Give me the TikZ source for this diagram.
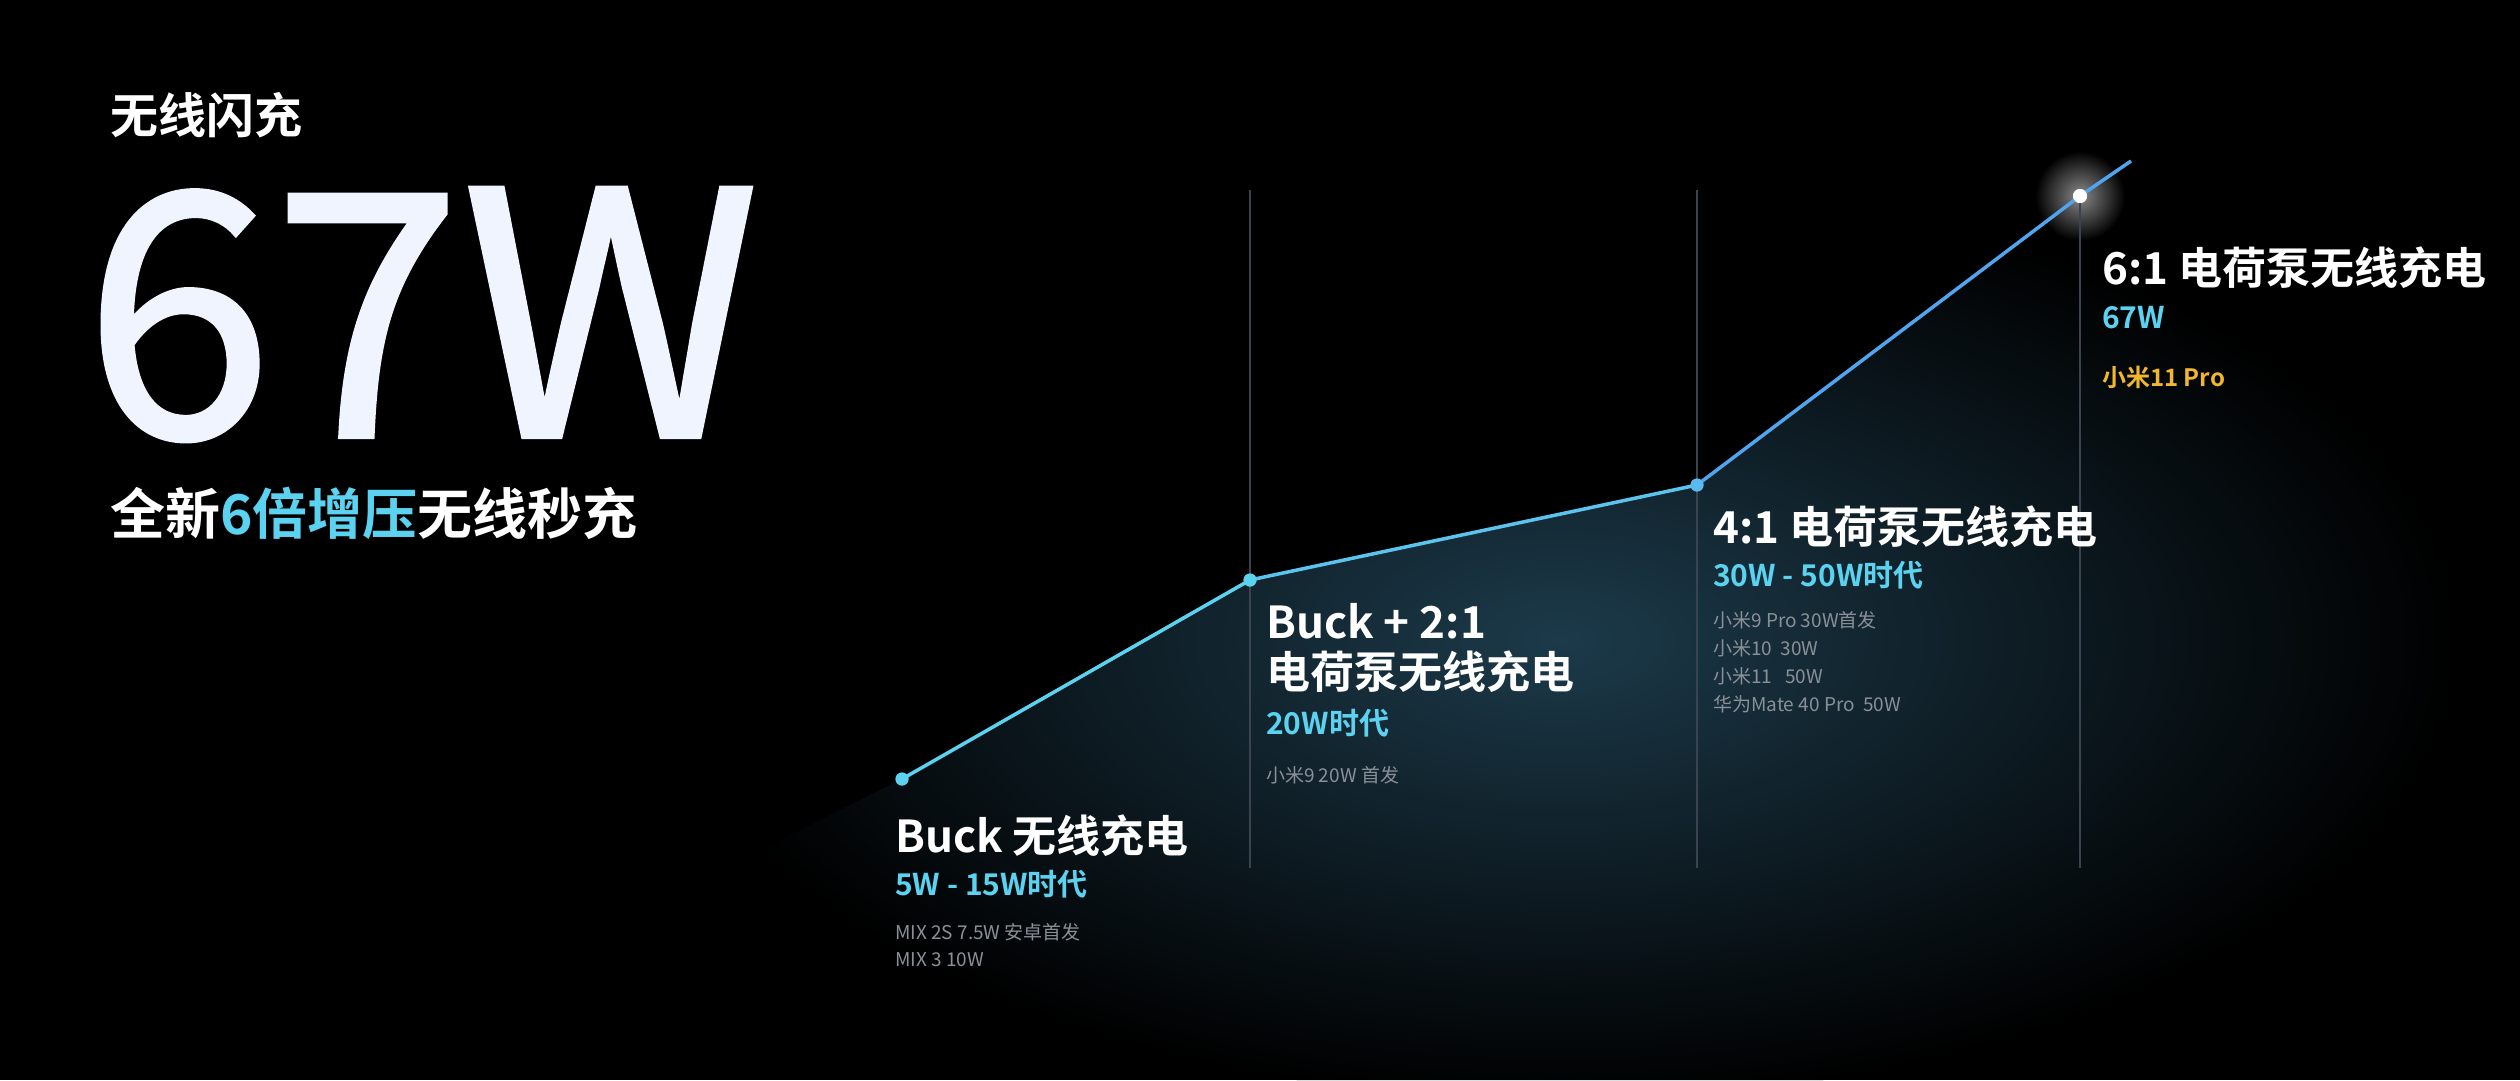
\documentclass[tikz,border=0pt]{standalone}
\usepackage{fontspec}
\setmainfont{Noto Sans CJK SC}[BoldFont={Noto Sans CJK SC Bold}]
\newfontfamily\bignum{Noto Sans CJK SC}[FakeBold=1.2]
\usetikzlibrary{fadings}
\definecolor{cyantx}{HTML}{5BD3F0}
\definecolor{graytx}{HTML}{8A9098}
\definecolor{yel}{HTML}{F2B72E}
\definecolor{vline}{HTML}{3A4450}
\definecolor{glowc}{HTML}{1C3A4A}
\tikzset{
 lbl/.style={anchor=base west,inner sep=0pt,text=white},
 big/.style={lbl,font=\fontsize{44}{44}\selectfont\bfseries},
 era/.style={lbl,text=cyantx,font=\fontsize{30}{30}\selectfont\bfseries},
 sm/.style={lbl,text=graytx,font=\fontsize{19}{19}\selectfont},
 dot/.style={circle,inner sep=0pt,minimum size=13pt,fill=cyantx},
}
\begin{document}
\begin{tikzpicture}[x=1pt,y=-1pt]
\fill[black] (0,0) rectangle (2520,1080);
\useasboundingbox (0,0) rectangle (2520,1080);
% glow under the curve
\begin{scope}
\clip (450,1080) -- (700,880) -- (902,779) -- (1250,580) -- (1697,485) -- (2080,196) -- (2131,161) -- (2520,161) -- (2520,1080) -- cycle;
\shade[inner color=glowc, outer color=black] (1560,640) ellipse (900 and 460);
\end{scope}
\shade[inner color=white!60!black, outer color=black, opacity=0.9] (2080,196) circle (45);
% vertical lines
\coordinate (v1t) at (1250,190); \coordinate (v1b) at (1250,868);
\coordinate (v2t) at (1697,190); \coordinate (v2b) at (1697,868);
\coordinate (v3t) at (2080,190); \coordinate (v3b) at (2080,868);
\draw[vline,line width=1.5pt] (v1t)--(v1b) (v2t)--(v2b) (v3t)--(v3b);
% points
\node[dot] (p1) at (902,779) {};
\node[dot] (p2) at (1250,580) {};
\node[dot,fill={rgb,255:red,90;green,185;blue,238}] (p3) at (1697,485) {};
\node[dot,fill=white,minimum size=14pt] (p4) at (2080,196) {};
\coordinate (pe) at (2131,161);
\draw[line width=3.5pt,color=cyantx] (p1.center)--(p2.center);
\draw[line width=3.5pt,color={rgb,255:red,90;green,196;blue,238}] (p2.center)--(p3.center);
\draw[line width=3.5pt,color={rgb,255:red,80;green,165;blue,238}] (p3.center)--(p4.center)--(pe);
\node[dot] at (p1) {}; \node[dot] at (p2) {};
\node[dot,fill={rgb,255:red,90;green,185;blue,238}] at (p3) {};
\node[dot,fill=white,minimum size=14pt] at (p4) {};
% title
\node[lbl,font=\fontsize{48}{48}\selectfont\bfseries] (t1) at (110,133) {无线闪充};
\node[lbl,text={rgb,255:red,240;green,244;blue,255},font=\fontsize{340}{340}\bignum] (t2) at (84,437) {67W};
\node[lbl,font=\fontsize{55}{55}\selectfont\bfseries] (t3) at (110,534) {全新\textcolor{cyantx}{6倍增压}无线秒充};
% stage 1
\node[big] (a1) at (895,852) {Buck 无线充电};
\node[era] (a2) at (895,895) {5W - 15W时代};
\node[sm] (a3) at (895,939) {MIX 2S 7.5W 安卓首发};
\node[sm] (a4) at (895,966) {MIX 3 10W};
% stage 2
\node[big] (b1) at (1266,638) {Buck + 2:1};
\node[big] (b2) at (1266,688) {电荷泵无线充电};
\node[era] (b3) at (1266,734) {20W时代};
\node[sm] (b4) at (1266,782) {小米9 20W 首发};
% stage 3
\node[big] (c1) at (1713,543) {4:1 电荷泵无线充电};
\node[era] (c2) at (1713,586) {30W - 50W时代};
\node[sm] (c3) at (1713,627) {小米9 Pro 30W首发};
\node[sm] (c4) at (1713,655) {小米10\ \ 30W};
\node[sm] (c5) at (1713,683) {小米11\ \ \ 50W};
\node[sm] (c6) at (1713,711) {华为Mate 40 Pro\ \ 50W};
% stage 4
\node[big] (d1) at (2102,284) {6:1 电荷泵无线充电};
\node[era] (d2) at (2102,328) {67W};
\node[lbl,text=yel,font=\fontsize{24}{24}\selectfont\bfseries] (d3) at (2102,386) {小米11 Pro};
\end{tikzpicture}
\end{document}
